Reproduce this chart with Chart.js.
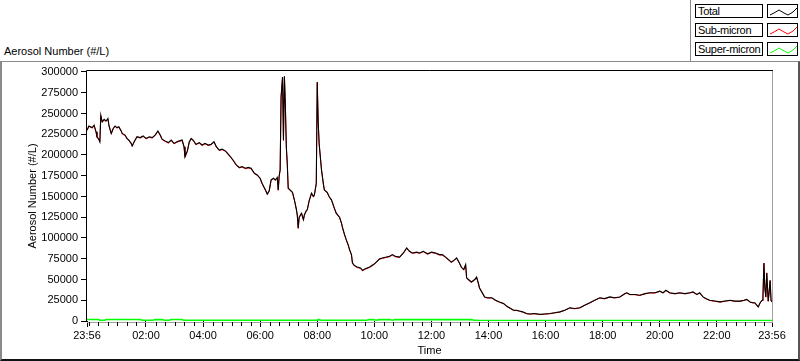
<!DOCTYPE html>
<html><head><meta charset="utf-8">
<script src="https://cdn.jsdelivr.net/npm/chart.js@4.4.0/dist/chart.umd.min.js"></script>
<style>
html,body{margin:0;padding:0;background:#fff;}
#wrap{position:relative;width:800px;height:361px;overflow:hidden;font-family:"Liberation Sans",Arial,sans-serif;color:#000;}
#frame{position:absolute;left:0;top:61px;width:800px;height:300px;box-sizing:border-box;border-top:1px solid #8a8a8a;border-left:2px solid #8a8a8a;border-right:2px solid #555;border-bottom:2px solid #111;}
#legline{position:absolute;left:690px;top:0;width:1px;height:61px;background:#8a8a8a;}
#toptitle{position:absolute;left:4px;top:45px;font-size:11px;line-height:13px;white-space:nowrap;}
.lbox{position:absolute;left:695px;width:68px;height:14px;box-sizing:border-box;border:1px solid #000;font-size:11px;line-height:12px;padding-left:2px;background:#fff;white-space:nowrap;overflow:hidden;letter-spacing:-0.3px;}
.sbox{position:absolute;left:767px;width:31px;height:14px;box-sizing:border-box;border:1px solid #000;background:#fff;}
.sbox svg{position:absolute;left:0;top:0;}
canvas{position:absolute;left:0;top:0;}
</style>
</head>
<body>
<div id="wrap">
  <div id="frame"></div>
  <div id="legline"></div>
  <div id="toptitle">Aerosol Number (#/L)</div>
  <div id="legend"></div>
  <canvas id="c" width="800" height="361"></canvas>
</div>
<script>
// ---- data ----
const seriesNames = ["Total", "Sub-micron", "Super-micron"];
const seriesColors = ["#000000", "#ff0000", "#00ff00"];

// minutes elapsed since 23:56 (start of record)
const minutesFromStart = [
0,4,11,15,19,21,25,27,29,32,
36,40,44,46,51,55,59,63,67,72,
74,80,84,88,93,95,99,105,112,118,
124,131,137,143,149,154,158,164,171,177,
183,189,194,200,204,206,211,215,219,223,
229,236,242,248,255,261,267,272,278,284,
291,297,303,307,314,320,326,333,339,345,
352,358,364,368,375,379,383,387,392,396,
400,402,404,406,408,411,413,415,417,419,
421,423,427,432,436,440,442,444,446,451,
455,457,461,463,467,472,476,478,482,484,
486,488,493,497,499,505,509,514,520,524,
531,535,537,541,545,549,552,556,558,562,
568,575,579,585,594,602,608,615,621,629,
636,642,648,657,665,672,678,684,693,699,
707,716,724,733,741,747,754,760,766,773,
777,783,787,792,796,798,802,808,815,819,
823,825,832,836,842,851,859,867,876,882,
888,897,903,909,916,924,931,941,952,962,
973,983,994,1004,1015,1025,1036,1046,1057,1067,
1078,1088,1099,1109,1120,1131,1135,1141,1152,1162,
1173,1183,1194,1204,1211,1217,1225,1236,1246,1257,
1267,1274,1282,1288,1295,1301,1309,1320,1331,1341,
1352,1362,1373,1381,1387,1394,1400,1404,1411,1415,
1419,1421,1423,1425,1427,1429,1432,1434,1436,1438,
1440];

const totalNumber = [
230000,235000,233000,236000,228000,222000,219000,216000,248000,240000,
243000,241000,244000,236000,226000,232000,235000,233000,234000,229000,
226000,224000,220000,218000,214000,211000,216000,222000,221000,223000,
220000,222000,221000,224000,229000,224000,219000,217000,215000,218000,
214000,216000,217000,218000,210000,198000,205000,216000,220000,218000,
213000,215000,212000,214000,212000,213000,216000,210000,206000,207000,
205000,201000,197000,194000,188000,185000,186000,184000,185000,184000,
178000,176000,172000,166000,158000,153000,157000,170000,172000,170000,
173000,158000,175000,182000,270000,294000,218000,295000,260000,210000,
190000,160000,158000,155000,146000,135000,128000,112000,125000,130000,
122000,128000,133000,134000,145000,154000,150000,152000,166000,288000,
240000,214000,182000,165000,158000,155000,150000,146000,136000,130000,
125000,118000,113000,105000,98000,92000,86000,80000,70000,67000,
65000,64000,61000,63000,65000,68000,71000,75000,76000,77000,
78000,80000,78000,77000,82000,88000,84000,82000,83000,82000,
84000,81000,83000,82000,80000,80000,77000,74000,71000,74000,
76000,70000,65000,62000,68000,52000,50000,47000,50000,53000,
45000,40000,33000,29000,28000,28000,25000,23000,21000,18000,
16000,13000,13000,12000,11000,9000,8500,9000,8000,8500,
9000,10000,11000,13000,16000,15000,16000,19000,22000,25000,
28000,27000,29000,28000,29000,33000,34000,32000,32000,31000,
33000,34000,34000,36000,34000,37000,34000,33000,34000,33000,
34000,35000,32000,34000,29000,27000,25000,24000,23000,24000,
25000,24000,24000,25000,26000,23000,22000,22000,17000,22000,
25000,30000,70000,40000,29000,58000,24000,35000,49000,25000,
23000];

const subMicronNumber = [
229400,234400,232400,235400,227400,221400,218400,215400,247400,239400,
242400,240400,243400,235400,225400,231400,234400,232400,233400,228400,
225400,223400,219400,217400,213400,210400,215400,221400,220400,222400,
219400,221400,220400,223400,228400,223400,218400,216400,214400,217400,
213400,215400,216400,217400,209400,197400,204400,215400,219400,217400,
212400,214400,211400,213400,211400,212400,215400,209400,205400,206400,
204400,200400,196400,193400,187400,184400,185400,183400,184400,183400,
177400,175400,171400,165400,157400,152400,156400,169400,171400,169400,
172400,157400,174400,181400,269400,293400,217400,294400,259400,209400,
189400,159400,157400,154400,145400,134400,127400,111400,124400,129400,
121400,127400,132400,133400,144400,153400,149400,151400,165400,287400,
239400,213400,181400,164400,157400,154400,149400,145400,135400,129400,
124400,117400,112400,104400,97400,91400,85400,79400,69400,66400,
64400,63400,60400,62400,64400,67400,70400,74400,75400,76400,
77400,79400,77400,76400,81400,87400,83400,81400,82400,81400,
83400,80400,82400,81400,79400,79400,76400,73400,70400,73400,
75400,69400,64400,61400,67400,51400,49400,46400,49400,52400,
44600,39600,32600,28600,27600,27600,24600,22600,20600,17600,
15700,12700,12700,11700,10700,8700,8200,8700,7700,8200,
8700,9700,10700,12700,15700,14700,15700,18700,21700,24700,
27700,26700,28700,27700,28700,32700,33700,31700,31700,30700,
32700,33700,33700,35700,33700,36700,33700,32700,33700,32700,
33700,34700,31700,33700,28700,26700,24700,23700,22700,23700,
24700,23700,23700,24700,25700,22700,21700,21700,16700,21700,
24700,29700,69700,39700,28700,57700,23700,34700,48700,24700,
22700];

const superMicronNumber = [
1800,1800,1800,1800,1800,1800,1800,700,700,700,
700,1800,1800,1800,1800,1800,1800,1800,1800,1800,
1800,1800,1800,1800,1800,1800,1800,1800,1800,700,
700,700,700,1700,1700,1700,1700,700,700,1800,
1800,1800,1800,1800,700,700,700,700,700,700,
700,700,700,700,700,700,700,700,700,700,
700,700,700,700,700,700,700,700,700,700,
700,700,700,700,700,700,700,700,700,700,
700,700,700,700,700,700,700,700,700,700,
700,700,700,700,700,700,700,700,700,700,
700,700,700,700,700,700,700,700,700,700,
1700,1700,700,700,700,700,700,700,700,700,
700,700,700,700,700,700,700,700,700,700,
700,700,700,700,1700,1700,1000,1700,1700,1700,
1700,1000,1700,1700,1700,1700,1700,1700,1700,1700,
1700,1700,1700,1700,1700,1700,1700,1700,1700,1700,
1700,1700,1700,1700,1700,1700,1700,1700,700,700,
600,600,600,600,600,600,600,600,600,600,
600,600,600,600,600,600,600,600,600,600,
600,600,600,600,600,600,600,600,600,600,
600,600,600,600,600,600,600,600,600,600,
600,600,600,600,600,600,600,600,600,600,
600,600,600,600,600,600,600,600,600,600,
600,600,600,600,600,600,600,600,600,600,
600,600,600,600,600,600,600,600,600,600,
600];

const xTickMinutes = [0,124,244,364,484,604,724,844,964,1084,1204,1324,1440];
const xTickLabels = ["23:56","02:00","04:00","06:00","08:00","10:00","12:00","14:00","16:00","18:00","20:00","22:00","23:56"];
const yTickValues = [0,25000,50000,75000,100000,125000,150000,175000,200000,225000,250000,275000,300000];

// ---- legend (HTML) ----
const legendEl = document.getElementById('legend');
const legendTops = [4, 23, 42];
seriesNames.forEach((name, i) => {
  const t = document.createElement('div');
  t.className = 'lbox'; t.style.top = legendTops[i] + 'px'; t.textContent = name;
  legendEl.appendChild(t);
  const s = document.createElement('div');
  s.className = 'sbox'; s.style.top = legendTops[i] + 'px';
  s.innerHTML = '<svg width="29" height="12"><polyline points="2,10 6,8 11,5 16,8 20,10 25,7 29,3" fill="none" stroke="' + seriesColors[i] + '" stroke-width="1"/></svg>';
  legendEl.appendChild(s);
});

// ---- chart ----
const FONT = {family: '"Liberation Sans", Arial, sans-serif', size: 11};
const seriesData = [totalNumber, subMicronNumber, superMicronNumber];

const framePlugin = {
  id: 'frameTicks',
  beforeDatasetsDraw(chart) {
    const {ctx, chartArea: a} = chart;
    ctx.save();
    ctx.lineWidth = 1;
    ctx.strokeStyle = '#a0a0a0';
    ctx.beginPath();
    ctx.moveTo(a.right + 0.5, a.top); ctx.lineTo(a.right + 0.5, a.bottom + 1.5);
    ctx.moveTo(a.left, a.bottom + 1.5); ctx.lineTo(a.right + 1, a.bottom + 1.5);
    ctx.stroke();
    ctx.strokeStyle = '#000';
    ctx.beginPath();
    ctx.moveTo(a.left - 0.5, a.bottom + 1); ctx.lineTo(a.left - 0.5, a.top - 0.5); ctx.lineTo(a.right + 1, a.top - 0.5);
    ctx.stroke();
    ctx.restore();
  },
  afterDraw(chart) {
    const {ctx, chartArea: a, scales: {x}} = chart;
    ctx.save();
    ctx.strokeStyle = '#000';
    ctx.lineWidth = 1;
    ctx.beginPath();
    for (let m = 4; m < 1440; m += 20) {
      if (xTickMinutes.includes(m)) continue;
      const px = Math.round(x.getPixelForValue(m)) + 0.5;
      ctx.moveTo(px, a.bottom + 1); ctx.lineTo(px, a.bottom + 5);
    }
    ctx.stroke();
    ctx.restore();
  }
};

new Chart(document.getElementById('c'), {
  type: 'line',
  data: {
    datasets: seriesNames.map((name, i) => ({
      label: name,
      data: minutesFromStart.map((m, k) => ({x: m, y: seriesData[i][k]})),
      borderColor: seriesColors[i],
      backgroundColor: seriesColors[i],
      borderWidth: i === 0 ? 1.1 : (i === 2 ? 1.6 : 1),
      pointRadius: 0,
      tension: 0,
      fill: false
    }))
  },
  options: {
    responsive: false,
    animation: false,
    devicePixelRatio: 1,
    layout: {padding: {left: 0, top: 71, right: 28, bottom: 0}},
    plugins: {legend: {display: false}, tooltip: {enabled: false}},
    scales: {
      x: {
        type: 'linear', min: 0, max: 1440, position: 'bottom',
        afterBuildTicks: s => { s.ticks = xTickMinutes.map(v => ({value: v})); },
        afterFit: s => { s.height = 40; },
        grid: {drawOnChartArea: false, drawTicks: true, tickLength: 6, color: '#000', tickColor: '#000', tickWidth: 1},
        border: {display: false},
        ticks: {autoSkip: false, maxRotation: 0, minRotation: 0, padding: 2, color: '#000', font: FONT,
                callback: (v, i) => xTickLabels[i]},
        title: {display: true, text: 'Time', color: '#000', font: FONT, padding: {top: 0, bottom: 3}}
      },
      y: {
        min: 0, max: 301200,
        afterBuildTicks: s => { s.ticks = yTickValues.map(v => ({value: v})); },
        afterFit: s => { s.width = 87; },
        grid: {drawOnChartArea: false, drawTicks: true, tickLength: 6, color: '#000', tickColor: '#000', tickWidth: 1},
        border: {display: false},
        ticks: {padding: 3, color: '#000', font: FONT, callback: v => String(v)},
        title: {display: true, text: 'Aerosol Number (#/L)', color: '#000', font: FONT, padding: {top: 26, bottom: 0}}
      }
    }
  },
  plugins: [framePlugin]
});
</script>
</body></html>
